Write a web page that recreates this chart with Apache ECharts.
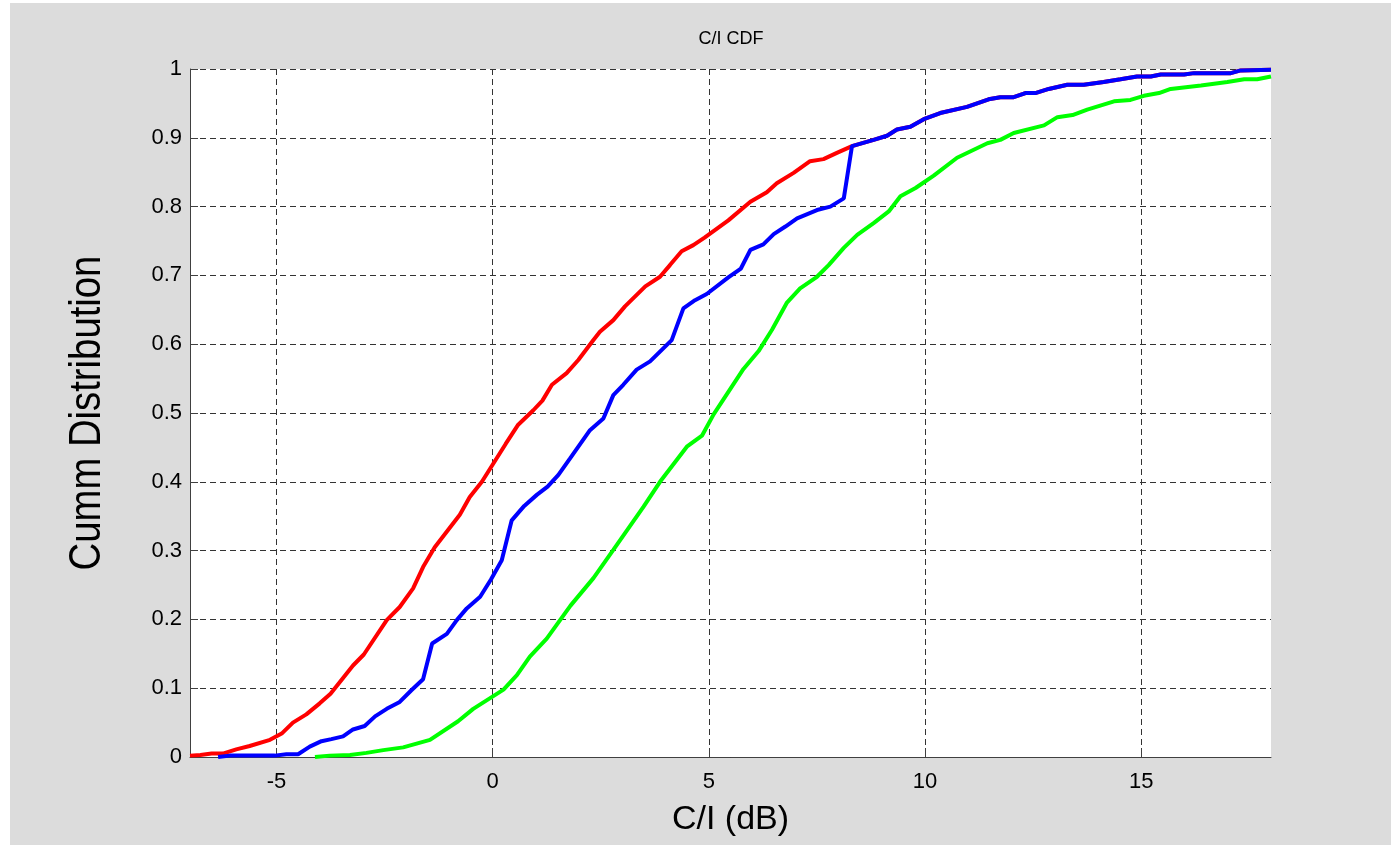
<!DOCTYPE html>
<html>
<head>
<meta charset="utf-8">
<title>C/I CDF</title>
<script src="https://cdn.jsdelivr.net/npm/echarts@6/dist/echarts.min.js"></script>
<style>
  html, body { margin: 0; padding: 0; background: #fff; }
  #main { width: 1391px; height: 845px; }
</style>
</head>
<body>
<div id="main"></div>
<script>
// x ticks / labels
var xTicks = [-5, 0, 5, 10, 15];

// red curve
var redX = [-7, -6.76, -6.5, -6.24, -5.93, -5.62, -5.15, -4.88, -4.62, -4.31, -4.0, -3.75, -3.23, -2.98,
  -2.45, -2.15, -1.84, -1.61, -1.34, -0.76, -0.53, -0.25, 0.30, 0.59, 0.94, 1.15, 1.37, 1.71, 1.98,
  2.33, 2.48, 2.79, 3.06, 3.53, 3.87, 4.10, 4.37, 4.64, 4.9, 5.45, 5.96, 6.34, 6.57, 6.96, 7.34,
  7.65, 7.96, 8.31, 8.81, 9.12, 9.35, 9.66, 9.97, 10.35, 10.97, 11.47, 11.74, 12.05, 12.32, 12.55,
  12.86, 13.29, 13.67, 14.13, 14.52, 14.9, 15.22, 15.45, 15.99, 16.22, 17.07, 17.3, 18];
var redY = [0.002, 0.003, 0.005, 0.005, 0.011, 0.016, 0.025, 0.034, 0.050, 0.062, 0.078, 0.092, 0.133, 0.149,
  0.199, 0.218, 0.245, 0.276, 0.305, 0.352, 0.378, 0.400, 0.455, 0.483, 0.504, 0.518, 0.541, 0.558, 0.577,
  0.606, 0.618, 0.635, 0.655, 0.684, 0.698, 0.715, 0.735, 0.744, 0.755, 0.780, 0.807, 0.821, 0.834, 0.849, 0.866,
  0.869, 0.878, 0.888, 0.897, 0.903, 0.912, 0.916, 0.927, 0.936, 0.945, 0.956, 0.959, 0.959, 0.965, 0.965,
  0.971, 0.977, 0.977, 0.981, 0.985, 0.989, 0.989, 0.992, 0.992, 0.994, 0.994, 0.998, 0.999];

// blue curve
var blueX = [-6.35, -6.08, -5.04, -4.77, -4.5, -4.23, -3.96, -3.73, -3.46, -3.23, -2.96, -2.72, -2.45, -2.15,
  -1.88, -1.61, -1.40, -1.06, -0.83, -0.6, -0.29, -0.04, 0.21, 0.44, 0.73, 1.02, 1.27, 1.52, 1.79,
  2.25, 2.56, 2.79, 3.02, 3.33, 3.64, 4.14, 4.41, 4.68, 4.95, 5.45, 5.74, 5.96, 6.26, 6.5, 6.77,
  7.04, 7.5, 7.81, 8.12, 8.31, 8.81, 9.12, 9.35, 9.66, 9.97, 10.35, 10.97, 11.47, 11.74, 12.05, 12.32,
  12.55, 12.86, 13.29, 13.67, 14.13, 14.52, 14.9, 15.22, 15.45, 15.99, 16.22, 17.07, 17.3, 18];
var blueY = [0.0, 0.002, 0.002, 0.004, 0.004, 0.015, 0.023, 0.026, 0.030, 0.040, 0.045, 0.059, 0.070, 0.080,
  0.097, 0.113, 0.165, 0.179, 0.199, 0.216, 0.233, 0.258, 0.286, 0.344, 0.365, 0.381, 0.393, 0.410, 0.434,
  0.475, 0.492, 0.526, 0.541, 0.563, 0.575, 0.606, 0.652, 0.664, 0.673, 0.697, 0.710, 0.737, 0.745, 0.760, 0.771,
  0.783, 0.795, 0.800, 0.812, 0.888, 0.897, 0.903, 0.912, 0.916, 0.927, 0.936, 0.945, 0.956, 0.959, 0.959, 0.965,
  0.965, 0.971, 0.977, 0.977, 0.981, 0.985, 0.989, 0.989, 0.992, 0.992, 0.994, 0.994, 0.998, 0.999];

// green curve
var greenX = [-4.11, -3.77, -3.3, -2.92, -2.53, -2.07, -1.45, -0.8, -0.45, 0.25, 0.56, 0.86, 1.25, 1.8,
  2.33, 2.79, 3.49, 3.87, 4.49, 4.84, 5.11, 5.8, 6.15, 6.46, 6.8, 7.11, 7.5, 7.77, 8.12, 8.43, 8.81,
  9.16, 9.43, 9.78, 10.2, 10.74, 11.44, 11.74, 12.05, 12.75, 13.06, 13.41, 13.75, 14.37, 14.75, 15.06,
  15.41, 15.68, 16.38, 16.99, 17.38, 17.68, 18.0];
var greenY = [0.0, 0.002, 0.003, 0.006, 0.010, 0.014, 0.025, 0.052, 0.070, 0.098, 0.119, 0.146, 0.172, 0.220,
  0.260, 0.301, 0.364, 0.400, 0.451, 0.467, 0.498, 0.564, 0.590, 0.621, 0.660, 0.681, 0.698, 0.715, 0.740, 0.759, 0.776,
  0.793, 0.815, 0.827, 0.845, 0.871, 0.892, 0.897, 0.907, 0.918, 0.930, 0.933, 0.941, 0.953, 0.955, 0.961,
  0.965, 0.971, 0.976, 0.981, 0.985, 0.985, 0.989];

function pairs(xs, ys){
  var out = [];
  for (var i = 0; i < xs.length; i++) out.push([xs[i], ys[i]]);
  return out;
}

var font = '"Liberation Sans", Arial, sans-serif';
var gridLine = { show: true, lineStyle: { color: '#333', width: 1, type: [6, 4] } };

var chart = echarts.init(document.getElementById('main'));
var option = {
  backgroundColor: '#dcdcdc',
  animation: false,
  graphic: [
    // white strips on the left / top edge
    { type: 'rect', left: 0, top: 0, shape: { width: 10, height: 845 }, style: { fill: '#fff' } },
    { type: 'rect', left: 0, top: 0, shape: { width: 1391, height: 3 }, style: { fill: '#fff' } },
    // y axis title, condensed like the original
    {
      type: 'text', x: 88, y: 413, rotation: Math.PI / 2, scaleX: 0.87,
      style: { text: 'Cumm Distribution', font: '44px ' + font, fill: '#000', textAlign: 'center', textVerticalAlign: 'middle' }
    }
  ],
  title: {
    text: 'C/I CDF',
    left: 726, top: 25, textAlign: 'center',
    textStyle: { fontFamily: font, fontSize: 18, fontWeight: 'normal', color: '#000' }
  },
  grid: { left: 190, right: 120, top: 69, bottom: 88, show: true, backgroundColor: '#fff', borderWidth: 0 },
  xAxis: {
    type: 'value', min: -7, max: 18,
    name: 'C/I (dB)', nameLocation: 'middle', nameGap: 46,
    nameTextStyle: { fontFamily: font, fontSize: 34, color: '#000' },
    axisLine: { show: true, onZero: false, lineStyle: { color: '#404040', width: 1 } },
    axisTick: { show: true, inside: true, length: 9, customValues: xTicks, lineStyle: { color: '#404040' } },
    axisLabel: { customValues: xTicks, margin: 14, fontFamily: font, fontSize: 22, color: '#000' },
    splitLine: gridLine
  },
  yAxis: {
    type: 'value', min: 0, max: 1, interval: 0.1,
    axisLine: { show: true, onZero: false, lineStyle: { color: '#404040', width: 1 } },
    axisTick: { show: true, inside: true, length: 8, lineStyle: { color: '#404040' } },
    axisLabel: { margin: 8, fontFamily: font, fontSize: 22, color: '#000' },
    splitLine: gridLine
  },
  series: [
    { type: 'line', data: pairs(redX, redY), showSymbol: false, lineStyle: { color: '#ff0000', width: 4 }, itemStyle: { color: '#ff0000' } },
    { type: 'line', data: pairs(blueX, blueY), showSymbol: false, lineStyle: { color: '#0000ff', width: 4 }, itemStyle: { color: '#0000ff' } },
    { type: 'line', data: pairs(greenX, greenY), showSymbol: false, lineStyle: { color: '#00ff00', width: 4 }, itemStyle: { color: '#00ff00' } }
  ]
};
chart.setOption(option);
</script>
</body>
</html>
